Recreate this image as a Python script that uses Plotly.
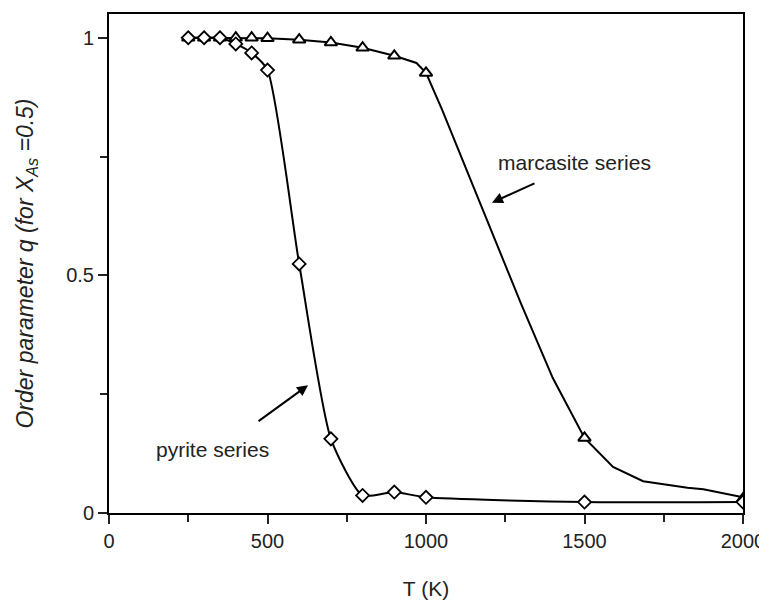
import plotly.graph_objects as go

# Temperatures (K) of the computed points
T_points = [250, 300, 350, 400, 450, 500, 600, 700, 800, 900, 1000, 1500, 2000]
# Order parameter q, pyrite series (diamonds)
q_pyrite = [1.0, 1.0, 1.0, 0.987, 0.968, 0.932, 0.524, 0.156, 0.037, 0.044, 0.033, 0.023, 0.023]
# Order parameter q, marcasite series (triangles)
q_marcasite = [1.0, 1.0, 1.0, 1.0, 1.0, 0.999, 0.996, 0.99, 0.979, 0.962, 0.926, 0.158, 0.03]

# Marcasite guide curve
T_marc_line = [250, 300, 350, 400, 450, 500, 600, 700, 800, 900, 970, 1000, 1050, 1100, 1200,
               1300, 1400, 1500, 1590, 1685, 1825, 1875, 2000]
q_marc_line = [1.0, 1.0, 1.0, 1.0, 1.0, 0.999, 0.996, 0.99, 0.979, 0.962, 0.947, 0.926, 0.85,
               0.768, 0.6, 0.44, 0.284, 0.158, 0.097, 0.067, 0.053, 0.05, 0.033]

x_ticks = [0, 500, 1000, 1500, 2000]
y_ticks = [0, 0.5, 1]
y_tick_text = ["0", "0.5", "1"]

FONT = "Liberation Sans, Arial, sans-serif"

fig = go.Figure()

fig.add_trace(go.Scatter(
    x=T_marc_line, y=q_marc_line, mode="lines",
    line=dict(color="black", width=2), hoverinfo="skip", showlegend=False))
fig.add_trace(go.Scatter(
    x=T_points, y=q_pyrite, mode="lines",
    line=dict(color="black", width=2, shape="spline", smoothing=0.6),
    hoverinfo="skip", showlegend=False))
fig.add_trace(go.Scatter(
    x=T_points, y=q_marcasite, mode="markers", name="marcasite series",
    marker=dict(symbol="triangle-up", size=11, color="white",
                line=dict(color="black", width=2)),
    showlegend=False))
fig.add_trace(go.Scatter(
    x=T_points, y=q_pyrite, mode="markers", name="pyrite series",
    marker=dict(symbol="diamond", size=10, color="white",
                line=dict(color="black", width=1.8)),
    showlegend=False))

annotations = [
    dict(x=1208, y=0.653, xref="x", yref="y", ax=44, ay=-20, axref="pixel", ayref="pixel",
         text="", showarrow=True, arrowhead=2, arrowsize=1.1, arrowwidth=2, arrowcolor="black"),
    dict(x=1470, y=0.737, xref="x", yref="y", text="marcasite series", showarrow=False,
         font=dict(family=FONT, size=21, color="#222")),
    dict(x=628, y=0.269, xref="x", yref="y", ax=-51, ay=37, axref="pixel", ayref="pixel",
         text="", showarrow=True, arrowhead=2, arrowsize=1.1, arrowwidth=2, arrowcolor="black"),
    dict(x=325, y=0.133, xref="x", yref="y", text="pyrite series", showarrow=False,
         font=dict(family=FONT, size=21, color="#222")),
]

# The page body adds an 8px margin, so the figure is sized 8px smaller
fig.update_layout(
    width=759, height=592,
    margin=dict(l=101, r=24, t=6, b=87),
    paper_bgcolor="white", plot_bgcolor="white",
    font=dict(family=FONT, size=20, color="#222"),
    annotations=annotations,
    xaxis=dict(
        range=[0, 2000], tickvals=x_ticks, ticktext=[str(v) for v in x_ticks],
        ticks="outside", ticklen=9, tickwidth=1.5, tickcolor="#222",
        minor=dict(dtick=250, tick0=0, ticks="outside", ticklen=7, tickwidth=1.5, tickcolor="#222"),
        showline=True, linecolor="black", linewidth=2, mirror=True,
        showgrid=False, zeroline=False, automargin=False,
        tickfont=dict(size=20),
        title=dict(text="T (K)", font=dict(size=21), standoff=30),
    ),
    yaxis=dict(
        range=[0, 1.05], tickvals=y_ticks, ticktext=y_tick_text,
        ticks="outside", ticklen=9, tickwidth=1.5, tickcolor="#222",
        minor=dict(dtick=0.25, tick0=0, ticks="outside", ticklen=7, tickwidth=1.5, tickcolor="#222"),
        showline=True, linecolor="black", linewidth=2, mirror=True,
        showgrid=False, zeroline=False, automargin=False,
        tickfont=dict(size=20),
        title=dict(text="<i>Order parameter q (for X<sub>As</sub> =0.5)</i>",
                   font=dict(size=23), standoff=26),
    ),
)

fig.write_html("out.html")
